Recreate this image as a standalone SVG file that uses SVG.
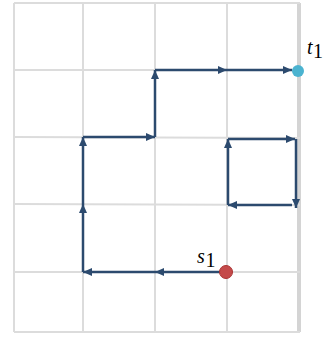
<svg xmlns="http://www.w3.org/2000/svg" width="326" height="340" viewBox="0 0 326 340">
<style>
.grid{stroke:#dcdcdc;stroke-width:2;fill:none}
.edge{stroke:#2c4a6e;stroke-width:2.5;fill:none;marker-end:url(#ah)}
.lbl{font-family:"Liberation Serif","DejaVu Serif",serif;font-size:20px;fill:#000}
</style>
<defs>
<marker id="ah" markerUnits="userSpaceOnUse" markerWidth="10" markerHeight="9" refX="9" refY="4.5" orient="auto">
<path d="M0,0.5 L9,4.5 L0,8.5 z" fill="#2c4a6e"/>
</marker>
</defs>
<rect width="326" height="340" fill="#fff"/>
<g id="grid">
<line class="grid" x1="14" y1="3" x2="14" y2="332"/>
<line class="grid" x1="83" y1="3" x2="83" y2="332"/>
<line class="grid" x1="155" y1="3" x2="155" y2="332"/>
<line class="grid" x1="227" y1="3" x2="227" y2="332"/>
<line x1="299" y1="3" x2="299" y2="332" stroke="#d4d4d4" stroke-width="4"/>
<line class="grid" x1="14" y1="3" x2="300" y2="3"/>
<line class="grid" x1="14" y1="70" x2="300" y2="70"/>
<line class="grid" x1="14" y1="137" x2="300" y2="138"/>
<line class="grid" x1="14" y1="204" x2="300" y2="205"/>
<line class="grid" x1="14" y1="272" x2="300" y2="272"/>
<line class="grid" x1="14" y1="332" x2="300" y2="332"/>
</g>
<g id="connectors">
<line class="edge" x1="227" y1="272" x2="155" y2="272"/>
<line class="edge" x1="155" y1="272" x2="83" y2="272"/>
<line class="edge" x1="83" y1="272" x2="83" y2="204"/>
<line class="edge" x1="83" y1="204" x2="83" y2="137"/>
<line class="edge" x1="83" y1="137" x2="155" y2="137"/>
<line class="edge" x1="155" y1="137" x2="155" y2="70"/>
<line class="edge" x1="155" y1="70" x2="227" y2="70"/>
<line class="edge" x1="227" y1="70" x2="292" y2="70"/>
<line class="edge" x1="228" y1="139" x2="295" y2="139"/>
<line class="edge" x1="296" y1="139" x2="296" y2="208"/>
<line class="edge" x1="292" y1="205" x2="228" y2="205"/>
<line class="edge" x1="228" y1="205" x2="228" y2="139"/>
</g>
<g id="s1">
<circle cx="226" cy="272" r="6.5" fill="#c44a4a" stroke="#a33" stroke-width="1"/>
<text class="lbl" x="197" y="263" font-style="italic">s</text>
<text class="lbl" x="205.5" y="267" font-size="15">1</text>
</g>
<g id="t1">
<circle cx="298" cy="71" r="6" fill="#4bb3d0"/>
<text class="lbl" x="307" y="54" font-style="italic">t</text>
<text class="lbl" x="313" y="58" font-size="15">1</text>
</g>
</svg>
